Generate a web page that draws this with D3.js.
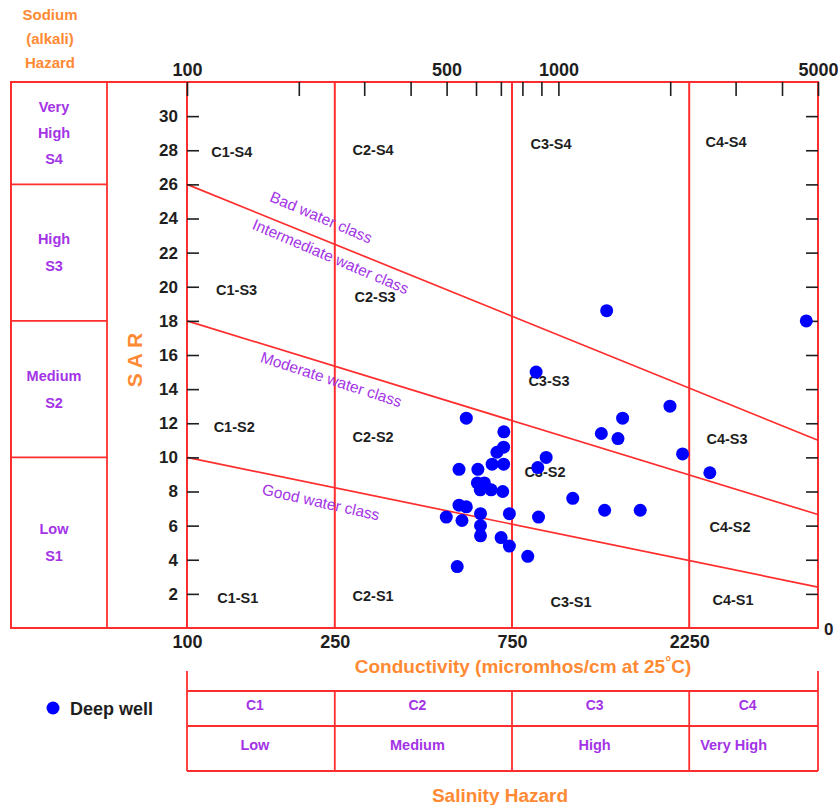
<!DOCTYPE html>
<html>
<head>
<meta charset="utf-8">
<script src="https://cdn.jsdelivr.net/npm/d3@7"></script>
<style>
  body { margin: 0; background: #fff; }
  svg { display: block; font-family: Arial, "Liberation Sans", sans-serif; }
</style>
</head>
<body>
<svg id="chart" width="838" height="805"></svg>
<script>
// data: conductivity (micromhos/cm) and SAR of each deep well sample
const wellEC = [565, 713, 712, 683, 712, 663, 540, 607, 880, 927, 605, 632, 616, 659, 708, 1093,
  540, 565, 499, 550, 617, 738, 884, 617, 617, 701, 738, 827, 534,
  1349, 4650, 871, 1997, 1489, 1305, 1447, 2159, 2557, 1332, 1661]
const wellSAR = [12.3, 11.5, 10.6, 10.3, 9.6, 9.6, 9.3, 9.3, 9.4, 10.0, 8.5, 8.5, 8.1, 8.1, 8.0, 7.6,
  7.2, 7.1, 6.5, 6.3, 6.7, 6.7, 6.5, 6.0, 5.4, 5.3, 4.8, 4.2, 3.6,
  18.6, 18.0, 15.0, 13.0, 12.3, 11.4, 11.1, 10.2, 9.1, 6.9, 6.9]

// salinity class limits and sodium hazard class lines (SAR at EC = 100 and EC = 5000)
const salinityBreaks = [250, 750, 2250]
const salinityClasses = ['C1', 'C2', 'C3', 'C4']
const salinityNames = ['Low', 'Medium', 'High', 'Very High']
const classLineNames = ['Bad', 'Moderate', 'Good']
const classLineStart = [26, 18, 10]
const classLineEnd = [11.0, 6.65, 2.4]
const sodiumNames = [['Very', 'High', 'S4'], ['High', 'S3'], ['Medium', 'S2'], ['Low', 'S1']]

// tick labels
const topTicks = [100, 200, 300, 400, 500, 600, 700, 800, 900, 1000, 2000, 3000, 4000, 5000]
const topLabels = [100, 500, 1000, 5000]
const bottomLabels = [100, 250, 750, 2250]
const sarTicks = d3.range(2, 31, 2)

// zone labels, anchored in data units (EC, SAR)
const zoneNames = ['C1-S4', 'C2-S4', 'C3-S4', 'C4-S4', 'C1-S3', 'C2-S3', 'C3-S3', 'C4-S3',
  'C1-S2', 'C2-S2', 'C3-S2', 'C4-S2', 'C1-S1', 'C2-S1', 'C3-S1', 'C4-S1']
const zoneEC = [132, 317, 955, 2827, 136, 321, 943, 2844, 134, 317, 920, 2898, 137, 317, 1081, 2952]
const zoneSAR = [27.6, 27.7, 28.1, 28.2, 19.5, 19.1, 14.2, 10.8, 11.5, 10.9, 8.85, 5.6, 1.47, 1.58, 1.23, 1.35]

const waterLabels = ['Bad water class', 'Intermediate water class', 'Moderate water class', 'Good water class']
const waterLabelLine = [0, 0, 1, 2]
const waterEC = [229, 243, 244, 229]
const waterSAR = [24.0, 21.7, 14.5, 7.3]

const RED = '#ff2e2e'
const PURPLE = '#a334e6'
const ORANGE = '#ff8a33'
const INK = '#1e1e1e'

const svg = d3.select('#chart')

const left = 11, divider = 107
const x = d3.scaleLog().domain([100, 5000]).range([187, 818])
const y = d3.scaleLinear().domain([0, 32]).range([628, 82])

// sodium hazard panel
const sodiumBounds = [32, 26, 18, 10, 0]
svg.append('g').selectAll('line')
  .data(sodiumBounds.slice(1, 4))
  .join('line')
  .attr('x1', left).attr('x2', divider)
  .attr('y1', d => y(d)).attr('y2', d => y(d))
  .attr('stroke', RED).attr('stroke-width', 1.8)

const sodiumText = svg.append('g')
  .attr('fill', PURPLE).attr('font-weight', 'bold').attr('font-size', 14.5)
  .attr('text-anchor', 'middle')
sodiumNames.forEach((words, i) => {
  const mid = (y(sodiumBounds[i]) + y(sodiumBounds[i + 1])) / 2
  const gap = words.length === 3 ? 26 : 27
  const start = mid - (words.length - 1) * gap / 2 + 5
  words.forEach((w, j) => {
    sodiumText.append('text').attr('x', 54).attr('y', start + j * gap).text(w)
  })
})

// salinity class vertical lines
svg.append('g').selectAll('line')
  .data(salinityBreaks)
  .join('line')
  .attr('x1', d => x(d)).attr('x2', d => x(d))
  .attr('y1', y(32)).attr('y2', y(0))
  .attr('stroke', RED).attr('stroke-width', 2)

// class lines
svg.append('g').selectAll('line')
  .data(classLineNames)
  .join('line')
  .attr('x1', x(100)).attr('x2', x(5000))
  .attr('y1', (d, i) => y(classLineStart[i]))
  .attr('y2', (d, i) => y(classLineEnd[i]))
  .attr('stroke', RED).attr('stroke-width', 1.7)

// outer frames
svg.append('rect')
  .attr('x', left).attr('y', y(32))
  .attr('width', x(5000) - left).attr('height', y(0) - y(32))
  .attr('fill', 'none').attr('stroke', RED).attr('stroke-width', 2)
svg.append('line')
  .attr('x1', divider).attr('x2', divider).attr('y1', y(32)).attr('y2', y(0))
  .attr('stroke', RED).attr('stroke-width', 1.8)
svg.append('line')
  .attr('x1', x(100)).attr('x2', x(100)).attr('y1', y(32)).attr('y2', y(0))
  .attr('stroke', RED).attr('stroke-width', 2)

// axes
const topAxis = d3.axisTop(x)
  .tickValues(topTicks)
  .tickSizeInner(-14).tickSizeOuter(0).tickPadding(6)
  .tickFormat(d => topLabels.includes(d) ? d : '')
const gTop = svg.append('g').attr('transform', `translate(0,${y(32)})`).call(topAxis)

const bottomAxis = d3.axisBottom(x)
  .tickValues(bottomLabels).tickSize(0).tickPadding(7)
  .tickFormat(d => d)
const gBottom = svg.append('g').attr('transform', `translate(0,${y(0)})`).call(bottomAxis)

const leftAxis = d3.axisLeft(y)
  .tickValues(sarTicks).tickSizeInner(-12).tickSizeOuter(0).tickPadding(9)
const gLeft = svg.append('g').attr('transform', `translate(${x(100)},0)`).call(leftAxis)

const rightAxis = d3.axisRight(y)
  .tickValues(sarTicks).tickSizeInner(-12).tickSizeOuter(0).tickFormat('')
const gRight = svg.append('g').attr('transform', `translate(${x(5000)},0)`).call(rightAxis)

;[gTop, gBottom, gLeft, gRight].forEach(g => {
  g.select('.domain').remove()
  g.selectAll('.tick line').attr('stroke', INK).attr('stroke-width', 1.6)
  g.selectAll('.tick text')
    .attr('fill', INK).attr('font-size', 17).attr('font-weight', 'bold')
    .attr('font-family', 'Arial, "Liberation Sans", sans-serif')
})
gTop.selectAll('.tick text').attr('font-size', 18)
gBottom.selectAll('.tick text').attr('font-size', 18)

svg.append('text')
  .attr('x', x(5000) + 6).attr('y', y(0) + 7)
  .attr('fill', INK).attr('font-size', 17).attr('font-weight', 'bold')
  .text('0')

// zone labels
svg.append('g').selectAll('text')
  .data(zoneNames)
  .join('text')
  .attr('x', (d, i) => x(zoneEC[i]))
  .attr('y', (d, i) => y(zoneSAR[i]))
  .attr('text-anchor', 'middle')
  .attr('fill', INK).attr('font-size', 14.5).attr('font-weight', 'bold')
  .text(d => d)

// water class labels along the lines
const lineAngle = i => Math.atan2(y(classLineEnd[i]) - y(classLineStart[i]), x(5000) - x(100)) * 180 / Math.PI
svg.append('g').selectAll('text')
  .data(waterLabels)
  .join('text')
  .attr('transform', (d, i) =>
    `translate(${x(waterEC[i])},${y(waterSAR[i])}) rotate(${lineAngle(waterLabelLine[i]) + 1})`)
  .attr('text-anchor', 'middle').attr('dominant-baseline', 'middle')
  .attr('fill', PURPLE).attr('font-size', 15.5)
  .text(d => d)

// deep well points
svg.append('g').selectAll('circle')
  .data(wellEC)
  .join('circle')
  .attr('cx', d => x(d))
  .attr('cy', (d, i) => y(wellSAR[i]))
  .attr('r', 6.5)
  .attr('fill', '#0000ff')

// axis titles
svg.append('text')
  .attr('transform', `translate(142,360) rotate(-90)`)
  .attr('text-anchor', 'middle')
  .attr('fill', ORANGE).attr('font-size', 21).attr('font-weight', 'bold')
  .text('S A R')

const sodiumTitle = svg.append('text')
  .attr('text-anchor', 'middle')
  .attr('fill', ORANGE).attr('font-size', 15).attr('font-weight', 'bold')
;['Sodium', '(alkali)', 'Hazard'].forEach((w, i) => {
  sodiumTitle.append('tspan').attr('x', 50).attr('y', 20 + i * 24).text(w)
})

const condTitle = svg.append('text')
  .attr('x', 523).attr('y', 673)
  .attr('text-anchor', 'middle')
  .attr('fill', ORANGE).attr('font-size', 19).attr('font-weight', 'bold')
condTitle.append('tspan').text('Conductivity (micromhos/cm at 25')
condTitle.append('tspan').attr('dy', -6).attr('font-size', 15).text('°')
condTitle.append('tspan').attr('dy', 6).text('C)')

svg.append('text')
  .attr('x', 500).attr('y', 802)
  .attr('text-anchor', 'middle')
  .attr('fill', ORANGE).attr('font-size', 19).attr('font-weight', 'bold')
  .text('Salinity Hazard')

// salinity hazard table
const tTop = 671, tRow1 = 691, tRow2 = 726, tBottom = 771
const salEdges = [100, ...salinityBreaks, 5000]
const table = svg.append('g').attr('stroke', RED).attr('stroke-width', 1.8)
;[tRow1, tRow2, tBottom].forEach(ty => {
  table.append('line').attr('x1', x(100)).attr('x2', x(5000)).attr('y1', ty).attr('y2', ty)
})
table.selectAll('line.v')
  .data(salEdges)
  .join('line')
  .attr('class', 'v')
  .attr('x1', d => x(d)).attr('x2', d => x(d))
  .attr('y1', (d, i) => (i === 0 || i === salEdges.length - 1) ? tTop : tRow1)
  .attr('y2', tBottom)

const cellMid = i => (x(salEdges[i]) + x(salEdges[i + 1])) / 2 - 6
svg.append('g').selectAll('text')
  .data(salinityClasses)
  .join('text')
  .attr('x', (d, i) => cellMid(i)).attr('y', 710)
  .attr('text-anchor', 'middle')
  .attr('fill', PURPLE).attr('font-size', 14).attr('font-weight', 'bold')
  .text(d => d)
svg.append('g').selectAll('text')
  .data(salinityNames)
  .join('text')
  .attr('x', (d, i) => cellMid(i) - (i === 3 ? 14 : 0)).attr('y', 750)
  .attr('text-anchor', 'middle')
  .attr('fill', PURPLE).attr('font-size', 14.5).attr('font-weight', 'bold')
  .text(d => d)

// legend
svg.append('circle').attr('cx', 53).attr('cy', 708).attr('r', 6.5).attr('fill', '#0000ff')
svg.append('text')
  .attr('x', 70).attr('y', 715)
  .attr('fill', INK).attr('font-size', 18).attr('font-weight', 'bold')
  .text('Deep well')
</script>
</body>
</html>
